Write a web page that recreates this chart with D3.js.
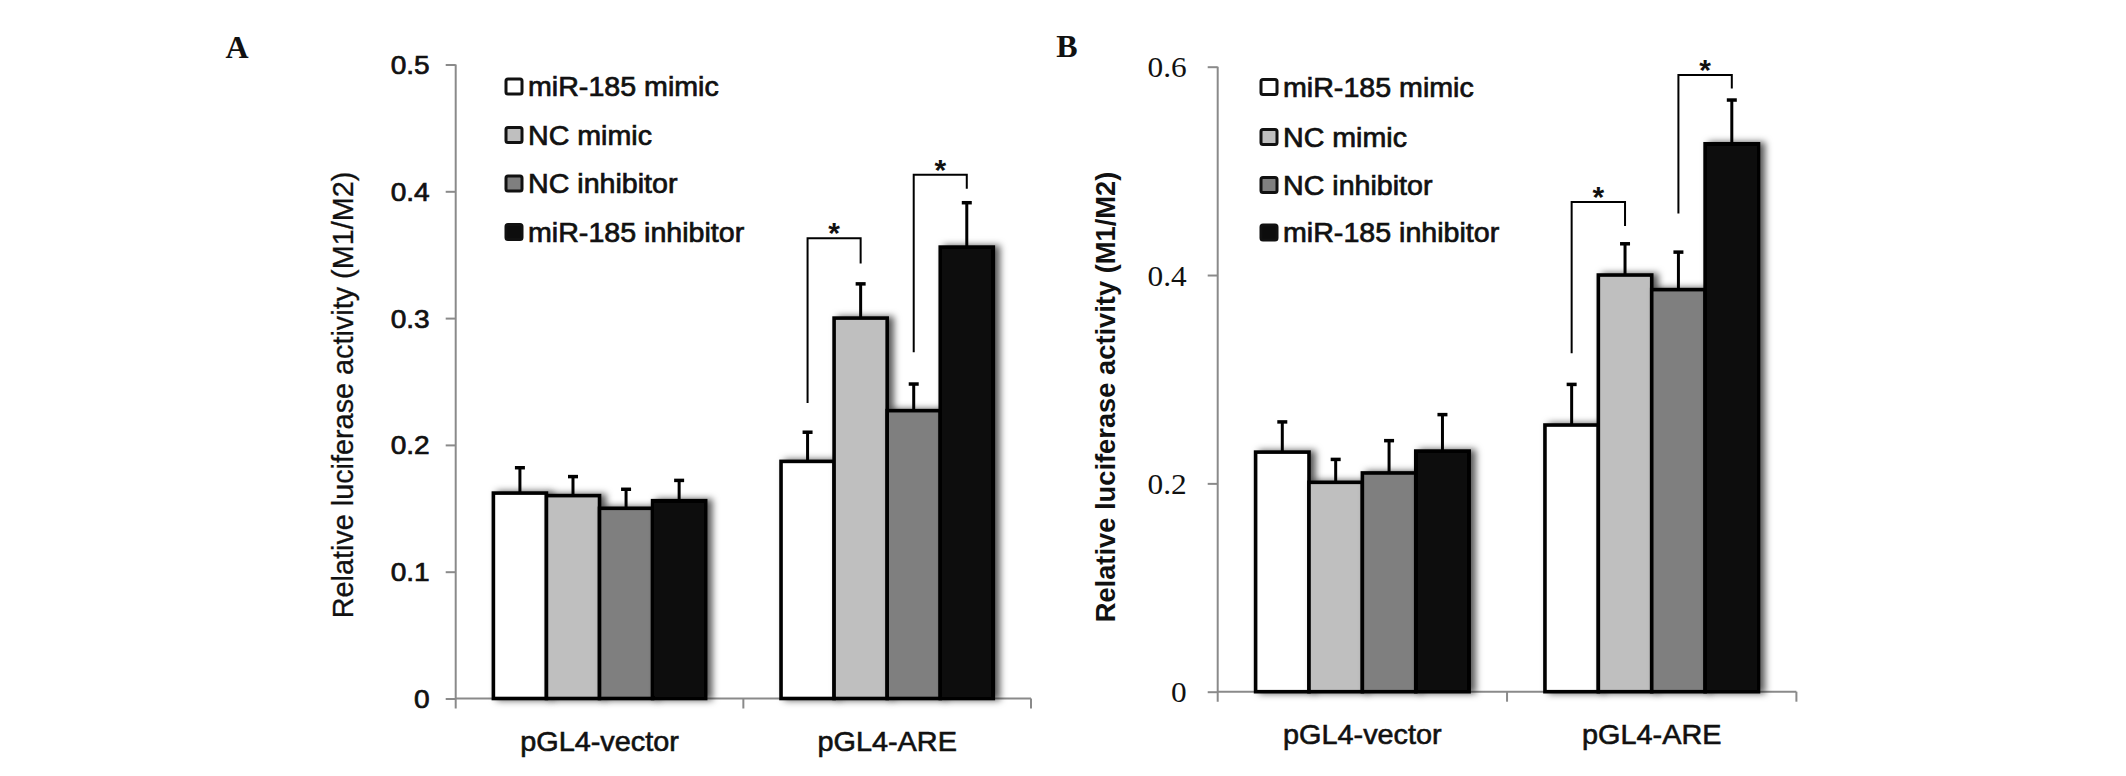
<!DOCTYPE html>
<html>
<head>
<meta charset="utf-8">
<script src="https://cdn.jsdelivr.net/npm/d3@7"></script>
<style>
  html, body { margin: 0; padding: 0; background: #fff; }
  svg { display: block; }
</style>
</head>
<body>
<script>
// ── Data ─────────────────────────────────────────────────────────────────────

const groups = ["pGL4-vector", "pGL4-ARE"];
const series = ["miR-185 mimic", "NC mimic", "NC inhibitor", "miR-185 inhibitor"];

// panel A: mean and upper error per group, series order as above
const meansA = [
  [0.162, 0.160, 0.150, 0.156],
  [0.187, 0.300, 0.227, 0.356],
];
const errorsA = [
  [0.020, 0.015, 0.015, 0.016],
  [0.023, 0.027, 0.021, 0.035],
];

// panel B
const meansB = [
  [0.230, 0.201, 0.210, 0.231],
  [0.256, 0.400, 0.386, 0.526],
];
const errorsB = [
  [0.029, 0.022, 0.031, 0.035],
  [0.039, 0.030, 0.036, 0.042],
];

const ticksA = [0, 0.1, 0.2, 0.3, 0.4, 0.5];
const tickLabelsA = ["0", "0.1", "0.2", "0.3", "0.4", "0.5"];
const ticksB = [0, 0.2, 0.4, 0.6];
const tickLabelsB = ["0", "0.2", "0.4", "0.6"];

// significance brackets: group index, series from/to, bracket top and the two leg ends (data units)
const bracketsA = [
  { group: 1, from: 0, to: 1, top: 0.363, leftEnd: 0.233, rightEnd: 0.343 },
  { group: 1, from: 2, to: 3, top: 0.413, leftEnd: 0.273, rightEnd: 0.402 },
];
const bracketsB = [
  { group: 1, from: 0, to: 1, top: 0.470, leftEnd: 0.325, rightEnd: 0.447 },
  { group: 1, from: 2, to: 3, top: 0.592, leftEnd: 0.459, rightEnd: 0.579 },
];

// ── Styles ───────────────────────────────────────────────────────────────────

const seriesFill = ["#ffffff", "#bfbfbf", "#7f7f7f", "#0d0d0d"];
const SANS = "'Liberation Sans', Arial, sans-serif";
const SERIF = "'Liberation Serif', 'Times New Roman', serif";
const INK = "#111";
const AXIS = "#8a8a8a";

const svg = d3.select("body").append("svg").attr("width", 2126).attr("height", 776);

const shadow = svg.append("defs").append("filter")
  .attr("id", "shadow").attr("x", "-30%").attr("y", "-20%").attr("width", "170%").attr("height", "140%");
shadow.append("feDropShadow")
  .attr("dx", 5).attr("dy", 0).attr("stdDeviation", 3.5)
  .attr("flood-color", "#000").attr("flood-opacity", 0.65);

// text with a slight horizontal stretch, like the scanned figure
function stretchedText(parent, x, y, str, opts) {
  return parent.append("text")
    .attr("transform", `translate(${x},${y}) scale(${opts.sx || 1},1)`)
    .attr("text-anchor", opts.anchor || "start")
    .attr("font-family", opts.family || SANS)
    .attr("font-size", opts.size + "px")
    .attr("font-weight", opts.weight || "normal")
    .attr("fill", INK)
    .attr("stroke", INK)
    .attr("stroke-width", opts.heavy || 0)
    .text(str);
}

// ── Panel ────────────────────────────────────────────────────────────────────

function drawPanel(p) {
  const g = svg.append("g");

  const y = d3.scaleLinear().domain([0, p.yMax]).range([p.yZero, p.yTop]);
  const xGroup = d3.scaleBand().domain(groups).range([p.xLeft, p.xRight]).padding(0);
  const xSeries = d3.scaleBand().domain(d3.range(series.length))
    .range([0, xGroup.bandwidth()]).paddingInner(0).paddingOuter(0.71);
  const barCenter = (gi, si) => xGroup(groups[gi]) + xSeries(si) + xSeries.bandwidth() / 2;

  // y axis
  const yAxis = g.append("g")
    .attr("transform", `translate(${p.xLeft},0)`)
    .call(d3.axisLeft(y).tickValues(p.ticks).tickFormat((d, i) => p.tickLabels[i]).tickSize(10).tickSizeOuter(0));
  yAxis.select(".domain").remove();
  yAxis.selectAll(".tick line").attr("stroke", AXIS).attr("stroke-width", 2);
  yAxis.selectAll(".tick text")
    .attr("x", null).attr("dy", null)
    .attr("transform", `translate(${-p.tickGap},${p.tickShift}) scale(1.08,1)`)
    .attr("font-family", p.tickFamily)
    .attr("font-size", p.tickSize + "px")
    .attr("fill", INK)
    .attr("stroke", INK)
    .attr("stroke-width", p.tickHeavy);
  g.append("line")
    .attr("x1", p.xLeft).attr("x2", p.xLeft)
    .attr("y1", y(p.yMax)).attr("y2", y(0) + 10)
    .attr("stroke", AXIS).attr("stroke-width", 2);

  // x axis with ticks at the band boundaries
  g.append("line")
    .attr("x1", p.xLeft).attr("x2", p.xRight)
    .attr("y1", y(0)).attr("y2", y(0))
    .attr("stroke", AXIS).attr("stroke-width", 2);
  const bounds = groups.map((d) => xGroup(d)).concat([p.xRight]);
  g.selectAll(".xtick").data(bounds.slice(1)).join("line")
    .attr("x1", (d) => d).attr("x2", (d) => d)
    .attr("y1", y(0)).attr("y2", y(0) + 10)
    .attr("stroke", AXIS).attr("stroke-width", 2);

  groups.forEach((name, gi) => {
    stretchedText(g, xGroup(name) + xGroup.bandwidth() / 2, y(0) + 52, name,
      { size: 28, anchor: "middle", sx: 1.03, heavy: 0.6 });
  });

  // bars, drawn in order so each bar covers the shadow of the one before
  p.means.forEach((row, gi) => {
    row.forEach((v, si) => {
      g.append("rect")
        .attr("x", xGroup(groups[gi]) + xSeries(si))
        .attr("y", y(v))
        .attr("width", xSeries.bandwidth())
        .attr("height", y(0) - y(v))
        .attr("fill", seriesFill[si])
        .attr("stroke", "#000")
        .attr("stroke-width", 3.6)
        .attr("filter", "url(#shadow)");
    });
  });

  // upper error bars
  p.means.forEach((row, gi) => {
    row.forEach((v, si) => {
      const cx = barCenter(gi, si);
      const top = y(v + p.errors[gi][si]);
      g.append("line")
        .attr("x1", cx).attr("x2", cx).attr("y1", y(v)).attr("y2", top)
        .attr("stroke", "#000").attr("stroke-width", 3);
      g.append("line")
        .attr("x1", cx - 5).attr("x2", cx + 5).attr("y1", top).attr("y2", top)
        .attr("stroke", "#000").attr("stroke-width", 3.5);
    });
  });

  // significance brackets
  p.brackets.forEach((b) => {
    const xl = barCenter(b.group, b.from);
    const xr = barCenter(b.group, b.to);
    g.append("path")
      .attr("d", `M${xl},${y(b.leftEnd)}V${y(b.top)}H${xr}V${y(b.rightEnd)}`)
      .attr("fill", "none").attr("stroke", "#000").attr("stroke-width", 2);
    stretchedText(g, (xl + xr) / 2, y(b.top) + 5, "*", { size: 30, anchor: "middle", weight: "bold" });
  });

  // legend
  series.forEach((name, si) => {
    const cy = p.legendY[si];
    g.append("rect")
      .attr("x", p.legendX).attr("y", cy - 7.5)
      .attr("width", 16).attr("height", 15).attr("rx", 2)
      .attr("fill", seriesFill[si]).attr("stroke", "#111").attr("stroke-width", 3);
    stretchedText(g, p.legendX + 22, cy + 9.5, name, { size: 27, sx: 1.06, heavy: 0.7 });
  });

  // y title
  g.append("text")
    .attr("transform", `translate(${p.titleX},${p.titleY}) rotate(-90)`)
    .attr("text-anchor", "middle")
    .attr("font-family", SANS)
    .attr("font-size", p.titleSize + "px")
    .attr("font-weight", p.titleWeight)
    .attr("fill", INK)
    .attr("stroke", INK)
    .attr("stroke-width", p.titleHeavy)
    .text("Relative luciferase activity (M1/M2)");

  // panel letter
  stretchedText(svg, p.letterX, p.letterY, p.letter,
    { size: 32, anchor: "middle", family: SERIF, weight: "bold" });
}

drawPanel({
  letter: "A", letterX: 237, letterY: 58,
  means: meansA, errors: errorsA, brackets: bracketsA,
  ticks: ticksA, tickLabels: tickLabelsA, yMax: 0.5,
  xLeft: 455.7, xRight: 1031, yZero: 698.5, yTop: 64.5,
  tickFamily: SANS, tickSize: 26, tickGap: 26, tickShift: 9, tickHeavy: 0.7,
  legendX: 506, legendY: [86.5, 135, 183.5, 232],
  titleX: 352.5, titleY: 395, titleSize: 28.8, titleWeight: "normal", titleHeavy: 0.3,
});

drawPanel({
  letter: "B", letterX: 1067, letterY: 57,
  means: meansB, errors: errorsB, brackets: bracketsB,
  ticks: ticksB, tickLabels: tickLabelsB, yMax: 0.6,
  xLeft: 1217.7, xRight: 1796.4, yZero: 691.7, yTop: 66.7,
  tickFamily: SERIF, tickSize: 29, tickGap: 31, tickShift: 10, tickHeavy: 0,
  legendX: 1261, legendY: [87, 137, 185, 232.5],
  titleX: 1115, titleY: 397, titleSize: 27.3, titleWeight: "bold", titleHeavy: 0,
});
</script>
</body>
</html>
